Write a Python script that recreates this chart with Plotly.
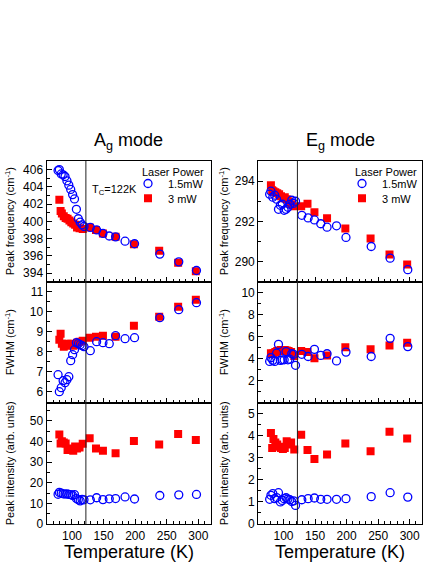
import plotly.graph_objects as go

# ---------------- data ----------------
temps_15mw = [78, 80, 83, 86, 89, 92, 95, 98, 101, 104, 107, 110, 113, 116, 119,
              129, 139, 149, 159, 169, 184, 199, 239, 269, 297]
temps_3mw = [80, 82, 84, 87, 90, 93, 96, 99, 102, 105, 108, 112, 117,
             128, 138, 149, 169, 198, 238, 268, 296]

# A_g mode
ag_freq_15 = [405.9, 406.0, 405.5, 405.4, 405.2, 404.7, 404.2, 403.7, 403.1, 402.6, 401.4, 400.3,
              399.9, 399.6, 399.4, 399.3, 399.0, 398.6, 398.3, 398.2, 397.7, 397.4, 396.2, 395.3, 394.3]
ag_freq_3 = [402.5, 401.2, 400.9, 400.6, 400.4, 400.3, 400.1, 399.9, 399.75, 399.6, 399.3, 399.2,
             399.1, 399.3, 399.0, 398.6, 398.2, 397.35, 396.6, 395.2, 394.2]
ag_fwhm_15 = [6.85, 6.0, 6.2, 6.55, 6.45, 6.6, 6.75, 7.55, 7.85, 8.1, 8.45, 8.4, 8.35, 8.3, 8.25,
              8.05, 8.5, 8.45, 8.4, 8.8, 8.65, 8.7, 9.7, 10.1, 10.45]
ag_fwhm_3 = [8.6, 8.9, 8.4, 8.25, 8.3, 8.4, 8.35, 8.4, 8.3, 8.35, 8.45, 8.5, 8.55,
             8.7, 8.75, 8.8, 8.75, 9.3, 9.75, 10.25, 10.6]
ag_int_15 = [14.4, 15.3, 14.9, 14.6, 14.5, 14.6, 14.3, 14.2, 13.8, 14.2, 12.3, 11.7, 11.2, 11.9, 11.7,
             11.7, 12.7, 11.8, 12.2, 12.3, 13.1, 12.1, 13.8, 14.1, 14.3]
ag_int_3 = [43.3, 39.0, 40.0, 39.5, 39.0, 35.8, 36.0, 36.5, 35.5, 37.5, 36.5, 37.0, 38.8,
            41.5, 36.5, 35.5, 34.2, 40.2, 38.5, 43.5, 40.6]

# E_g mode
eg_freq_15 = [293.35, 293.5, 293.2, 293.3, 293.1, 292.6, 292.8, 292.85, 292.55, 292.6, 292.7, 292.85,
              293.05, 292.9, 293.0, 292.3, 292.17, 292.07, 291.88, 291.71, 291.78, 291.2, 290.75,
              290.17, 289.6]
eg_freq_3 = [293.8, 293.55, 293.5, 293.45, 293.4, 293.35, 293.25, 293.15, 293.2, 293.1, 293.0, 292.85,
             292.75, 292.75, 292.87, 292.45, 292.15, 291.65, 291.15, 290.35, 289.85]
eg_fwhm_15 = [3.75, 4.1, 3.85, 3.75, 4.5, 5.3, 3.85, 3.9, 3.9, 4.65, 3.9, 3.95, 4.45, 4.4, 3.4,
              4.4, 4.2, 4.85, 4.3, 4.45, 3.8, 4.6, 4.2, 5.85, 5.1]
eg_fwhm_3 = [4.5, 4.4, 4.5, 4.6, 4.7, 4.75, 4.8, 4.7, 4.8, 4.75, 4.7, 4.6, 4.25,
             4.7, 4.6, 4.05, 4.3, 5.05, 4.85, 5.2, 5.45]
eg_int_15 = [1.12, 1.3, 1.38, 1.15, 1.2, 1.42, 1.0, 1.07, 1.15, 1.19, 1.13, 1.1, 1.02, 1.05, 0.84,
             1.1, 1.15, 1.18, 1.12, 1.12, 1.12, 1.15, 1.24, 1.42, 1.22]
eg_int_3 = [4.13, 3.45, 3.85, 3.7, 3.6, 3.5, 3.45, 3.4, 3.45, 3.75, 3.6, 3.7, 3.38,
            4.05, 3.35, 2.95, 3.15, 3.65, 3.3, 4.18, 3.88]

tc_value = 122
x_ticks = [100, 150, 200, 250, 300]
mode_titles = ["A<sub>g</sub> mode", "E<sub>g</sub> mode"]
y_titles = ["Peak frequency (cm<sup>-1</sup>)", "FWHM (cm<sup>-1</sup>)", "Peak intensity (arb. units)"]
series_names = ["1.5mW", "3 mW"]
legend_title = "Laser Power"

# ---------------- layout helpers ----------------
W, H = 436, 564
FONT = "Arial, 'Liberation Sans', Helvetica, sans-serif"
BLUE = "#0000FF"
RED = "#FF0000"


def px(p):
    return p / W


def py(p):
    return 1 - p / H


col_x = [(46.7, 211.0), (258.3, 422.3)]
row_y = [(161.0, 281.7), (281.7, 402.7), (402.7, 524.0)]
legend_x = [128, 342]
legend_title_x = [140, 353]
legend_rows_y = [183.5, 198.3]

y_specs = {
    (0, 0): dict(range=[393, 407], dtick=2, minor=1),
    (0, 1): dict(range=[5.45, 11.5], dtick=1, minor=0.5),
    (0, 2): dict(range=[0, 58.7], dtick=10, minor=5),
    (1, 0): dict(range=[289, 295], dtick=2, minor=1),
    (1, 1): dict(range=[0, 11], dtick=2, minor=1, tickvals=[2, 4, 6, 8, 10]),
    (1, 2): dict(range=[0, 5.5], dtick=1, minor=0.5),
}

data_map = {
    (0, 0): (ag_freq_15, ag_freq_3),
    (0, 1): (ag_fwhm_15, ag_fwhm_3),
    (0, 2): (ag_int_15, ag_int_3),
    (1, 0): (eg_freq_15, eg_freq_3),
    (1, 1): (eg_fwhm_15, eg_fwhm_3),
    (1, 2): (eg_int_15, eg_int_3),
}

fig = go.Figure()
layout = dict(
    width=W, height=H, margin=dict(l=0, r=0, t=0, b=0),
    paper_bgcolor="white", plot_bgcolor="white",
    font=dict(family=FONT, size=12, color="black"),
    showlegend=True,
)
shapes = []
annotations = []

leg_common = dict(
    xanchor="left", yanchor="middle", bgcolor="rgba(0,0,0,0)", borderwidth=0,
    font=dict(size=11, family=FONT, color="black"), itemwidth=30,
)

idx = 0
for c in range(2):
    leg_15 = f"legend{2 * c + 1}" if c > 0 else "legend"
    leg_3 = f"legend{2 * c + 2}"
    layout[leg_15] = dict(x=px(legend_x[c]), y=py(legend_rows_y[0]), **leg_common)
    layout[leg_3] = dict(x=px(legend_x[c]), y=py(legend_rows_y[1]), **leg_common)
    for r in range(3):
        idx += 1
        xname = "xaxis" if idx == 1 else f"xaxis{idx}"
        yname = "yaxis" if idx == 1 else f"yaxis{idx}"
        xref = "x" if idx == 1 else f"x{idx}"
        yref = "y" if idx == 1 else f"y{idx}"
        x0, x1 = col_x[c]
        ytop, ybot = row_y[r]
        layout[xname] = dict(
            domain=[px(x0), px(x1)], anchor=yref, range=[60, 320],
            tickvals=x_ticks, ticks="inside", ticklen=5, tickwidth=1, tickcolor="black",
            minor=dict(dtick=10, tick0=0, ticks="inside", ticklen=3, tickwidth=1, tickcolor="black"),
            showline=True, linecolor="black", linewidth=1.3, mirror=True,
            showgrid=False, zeroline=False, showticklabels=(r == 2),
            tickfont=dict(size=12, family=FONT, color="black"), automargin=False,
        )
        spec = y_specs[(c, r)]
        yax = dict(
            domain=[py(ybot), py(ytop)], anchor=xref, range=spec["range"],
            ticks="inside", ticklen=5, tickwidth=1, tickcolor="black",
            minor=dict(dtick=spec["minor"], tick0=0, ticks="inside", ticklen=3, tickwidth=1,
                       tickcolor="black"),
            showline=True, linecolor="black", linewidth=1.3, mirror=True,
            showgrid=False, zeroline=False,
            tickfont=dict(size=12, family=FONT, color="black"), automargin=False,
        )
        if "tickvals" in spec:
            yax["tickvals"] = spec["tickvals"]
        else:
            yax["dtick"] = spec["dtick"]
            yax["tick0"] = 0
        layout[yname] = yax

        vals15, vals3 = data_map[(c, r)]
        fig.add_trace(go.Scatter(
            x=temps_3mw, y=vals3, mode="markers", name=series_names[1],
            marker=dict(symbol="square", size=8, color=RED, line=dict(width=0)),
            xaxis=xref, yaxis=yref, showlegend=(r == 0), legend=leg_3,
        ))
        fig.add_trace(go.Scatter(
            x=temps_15mw, y=vals15, mode="markers", name=series_names[0],
            marker=dict(symbol="circle-open", size=8, color=BLUE, line=dict(width=1.3, color=BLUE)),
            xaxis=xref, yaxis=yref, showlegend=(r == 0), legend=leg_15,
        ))

        shapes.append(dict(type="line", xref=xref, yref=f"{yref} domain", x0=tc_value, x1=tc_value,
                           y0=0, y1=1, line=dict(color="#222222", width=1)))

        annotations.append(dict(
            text=y_titles[r], textangle=-90, xref="paper", yref="paper",
            x=px(10 if c == 0 else 224), y=py((ytop + ybot) / 2), showarrow=False,
            xanchor="center", yanchor="middle", font=dict(size=11, family=FONT, color="black"),
        ))

    cx = (col_x[c][0] + col_x[c][1]) / 2
    annotations.append(dict(
        text=mode_titles[c], xref="paper", yref="paper", x=px(cx), y=py(155),
        showarrow=False, xanchor="center", yanchor="bottom", font=dict(size=18, family=FONT, color="black"),
    ))
    annotations.append(dict(
        text="Temperature (K)", xref="paper", yref="paper", x=px(cx), y=py(552),
        showarrow=False, xanchor="center", yanchor="middle", font=dict(size=18, family=FONT, color="black"),
    ))
    annotations.append(dict(
        text=legend_title, xref="paper", yref="paper", x=px(legend_title_x[c]), y=py(171.7),
        showarrow=False, xanchor="left", yanchor="middle", font=dict(size=11, family=FONT, color="black"),
    ))

annotations.append(dict(
    text="T<sub>C</sub>=122K", xref="paper", yref="paper", x=px(90), y=py(190),
    showarrow=False, xanchor="left", yanchor="middle", font=dict(size=11, family=FONT, color="black"),
))

layout["shapes"] = shapes
layout["annotations"] = annotations

fig.update_layout(**layout)
fig.write_html("out.html", config={"displayModeBar": False},
               post_script="document.body.style.margin='0px';")
